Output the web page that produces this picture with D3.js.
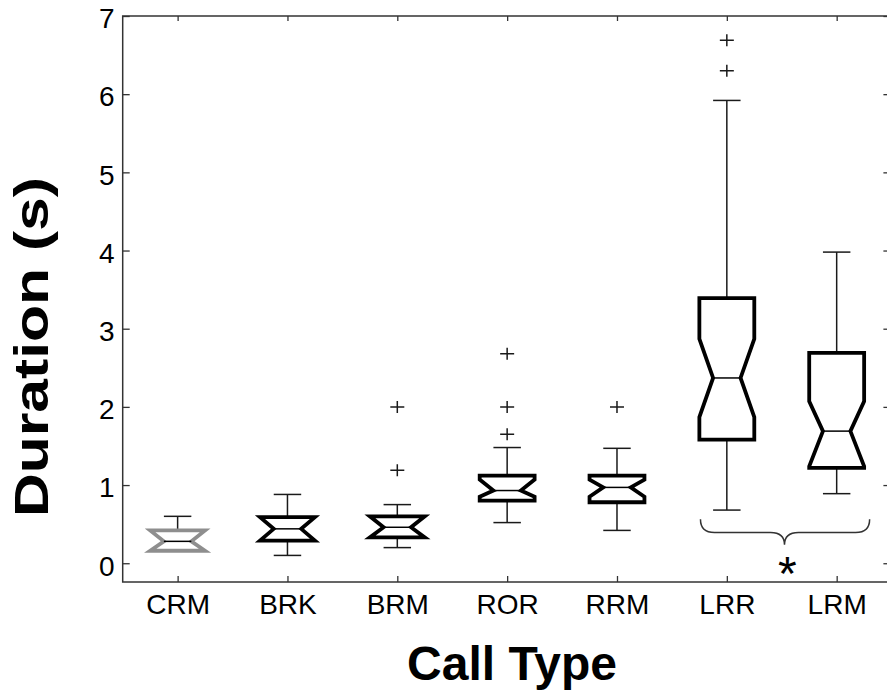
<!DOCTYPE html>
<html>
<head>
<meta charset="utf-8">
<script src="https://cdn.jsdelivr.net/npm/d3@7"></script>
<style>
  html, body { margin: 0; padding: 0; background: #fff; }
  svg { display: block; }
  text { font-family: "Liberation Sans", Arial, sans-serif; fill: #000; }
</style>
</head>
<body>
<svg id="chart" width="887" height="692"></svg>
<script>
// Call durations per call type (seconds): notched box summaries
const categories  = ["CRM", "BRK", "BRM", "ROR", "RRM", "LRR", "LRM"];
const whiskerLow  = [0.16, 0.10, 0.20, 0.52, 0.42, 0.68, 0.89];
const q1          = [0.16, 0.29, 0.33, 0.80, 0.78, 1.58, 1.22];
const medians     = [0.28, 0.44, 0.46, 0.93, 0.97, 2.37, 1.69];
const q3          = [0.42, 0.59, 0.60, 1.12, 1.12, 3.39, 2.69];
const whiskerHigh = [0.60, 0.88, 0.75, 1.48, 1.47, 5.92, 3.98];
const notchLow    = [0.16, 0.29, 0.33, 0.85, 0.85, 1.87, 1.24];
const notchHigh   = [0.42, 0.59, 0.60, 1.07, 1.07, 2.87, 2.07];
const outliers    = [[], [], [2.0, 1.19], [2.68, 2.0, 1.65], [2.0], [6.69, 6.30], []];
const boxColors   = ["#8e8e8e", "#000", "#000", "#000", "#000", "#000", "#000"];

const yTicks = [0, 1, 2, 3, 4, 5, 6, 7];

// significance bracket between LRR and LRM
const braceX = [5.76, 6.525, 7.30];   // left end, tip, right end
const braceY = [0.563, 0.393, 0.235]; // ends, bar, tip
const starPos = [6.55, 0.04];

const svg = d3.select("#chart");
const plotLeft = 122.7, plotRight = 889.4, plotTop = 16, plotBottom = 582;

const x = d3.scaleLinear().domain([0.5, 7.48]).range([plotLeft, plotRight]);
const y = d3.scaleLinear().domain([-0.24, 7]).range([plotBottom, plotTop]);

const axisColor = "#333";
const positions = categories.map((_, i) => i + 1);

function styleAxis(g) {
  g.select(".domain").remove();
  g.selectAll(".tick line").attr("stroke", axisColor).attr("stroke-width", 1.3);
  g.selectAll(".tick text").attr("font-size", 28).attr("fill", "#000")
    .attr("font-family", '"Liberation Sans", Arial, sans-serif');
}

// left axis with labels, ticks pointing inward
svg.append("g").attr("transform", `translate(${plotLeft},0)`)
  .call(d3.axisLeft(y).tickValues(yTicks).tickFormat(d3.format("d")).tickSize(-7).tickPadding(8))
  .call(styleAxis)
  .call(g => g.selectAll(".tick text").attr("dy", "0.42em"));

// right axis ticks only
svg.append("g").attr("transform", `translate(${plotRight},0)`)
  .call(d3.axisRight(y).tickValues(yTicks).tickFormat("").tickSize(-6))
  .call(styleAxis);

// bottom axis with category names
svg.append("g").attr("transform", `translate(0,${plotBottom})`)
  .call(d3.axisBottom(x).tickValues(positions).tickFormat(d => categories[d - 1]).tickSize(-6).tickPadding(12.5))
  .call(styleAxis);

// top axis ticks only
svg.append("g").attr("transform", `translate(0,${plotTop})`)
  .call(d3.axisTop(x).tickValues(positions).tickFormat("").tickSize(-5))
  .call(styleAxis);

// frame
svg.append("rect")
  .attr("x", plotLeft).attr("y", plotTop)
  .attr("width", plotRight - plotLeft).attr("height", plotBottom - plotTop)
  .attr("fill", "none").attr("stroke", axisColor).attr("stroke-width", 1.5);

const boxHalf = x(1.25) - x(1);   // box half-width
const innerHalf = boxHalf / 2;    // notch waist / whisker cap half-width

const data = categories.map((name, i) => ({
  name, pos: i + 1,
  wLo: whiskerLow[i], q1: q1[i], med: medians[i], q3: q3[i], wHi: whiskerHigh[i],
  nLo: notchLow[i], nHi: notchHigh[i], out: outliers[i], color: boxColors[i]
}));

const groups = svg.append("g").selectAll("g.box").data(data).join("g").attr("class", "box");

// whiskers
groups.each(function(d) {
  const g = d3.select(this);
  const cx = x(d.pos);
  const wl = g.append("g").attr("stroke", "#1a1a1a").attr("stroke-width", 1.5).attr("fill", "none");
  wl.append("line").attr("x1", cx).attr("x2", cx).attr("y1", y(d.q3)).attr("y2", y(d.wHi));
  wl.append("line").attr("x1", cx).attr("x2", cx).attr("y1", y(d.q1)).attr("y2", y(d.wLo));
  wl.append("line").attr("x1", cx - innerHalf).attr("x2", cx + innerHalf).attr("y1", y(d.wHi)).attr("y2", y(d.wHi));
  wl.append("line").attr("x1", cx - innerHalf).attr("x2", cx + innerHalf).attr("y1", y(d.wLo)).attr("y2", y(d.wLo));
});

// notched boxes
groups.append("path")
  .attr("d", d => {
    const cx = x(d.pos);
    const p = d3.path();
    p.moveTo(cx - boxHalf, y(d.q3));
    p.lineTo(cx + boxHalf, y(d.q3));
    p.lineTo(cx + boxHalf, y(d.nHi));
    p.lineTo(cx + innerHalf, y(d.med));
    p.lineTo(cx + boxHalf, y(d.nLo));
    p.lineTo(cx + boxHalf, y(d.q1));
    p.lineTo(cx - boxHalf, y(d.q1));
    p.lineTo(cx - boxHalf, y(d.nLo));
    p.lineTo(cx - innerHalf, y(d.med));
    p.lineTo(cx - boxHalf, y(d.nHi));
    p.closePath();
    return p.toString();
  })
  .attr("fill", "#fff")
  .attr("stroke", d => d.color)
  .attr("stroke-width", 3.8)
  .attr("stroke-linejoin", "miter");

// medians
groups.append("line")
  .attr("x1", d => x(d.pos) - innerHalf).attr("x2", d => x(d.pos) + innerHalf)
  .attr("y1", d => y(d.med)).attr("y2", d => y(d.med))
  .attr("stroke", "#000").attr("stroke-width", 1.5);

// outliers as "+" markers
groups.each(function(d) {
  d3.select(this).selectAll("path.out").data(d.out).join("path")
    .attr("class", "out")
    .attr("transform", v => `translate(${x(d.pos)},${y(v)})`)
    .attr("d", "M-7,0H7M0,-6V6")
    .attr("stroke", "#1a1a1a").attr("stroke-width", 1.5).attr("fill", "none");
});

// curly brace under LRR and LRM
{
  const xl = x(braceX[0]), xc = x(braceX[1]), xr = x(braceX[2]);
  const yt = y(braceY[0]), ym = y(braceY[1]), yp = y(braceY[2]);
  const r = 14;
  const p = d3.path();
  p.moveTo(xl, yt);
  p.quadraticCurveTo(xl, ym, xl + r, ym);
  p.lineTo(xc - r, ym);
  p.quadraticCurveTo(xc, ym, xc, yp);
  p.quadraticCurveTo(xc, ym, xc + r, ym);
  p.lineTo(xr - r, ym);
  p.quadraticCurveTo(xr, ym, xr, yt);
  svg.append("path").attr("d", p.toString())
    .attr("fill", "none").attr("stroke", "#333").attr("stroke-width", 1.5);
}

svg.append("text")
  .attr("x", x(starPos[0])).attr("y", y(starPos[1]))
  .attr("text-anchor", "middle").attr("dy", "0.62em")
  .attr("font-size", 48).attr("fill", "#111")
  .text("*");

// axis titles
svg.append("text")
  .attr("x", 512).attr("y", 680)
  .attr("text-anchor", "middle")
  .attr("font-size", 48).attr("font-weight", "bold")
  .text("Call Type");

svg.append("text")
  .attr("transform", "translate(48,347) rotate(-90)")
  .attr("text-anchor", "middle")
  .attr("font-size", 48).attr("font-weight", "bold")
  .attr("textLength", 340).attr("lengthAdjust", "spacingAndGlyphs")
  .text("Duration (s)");
</script>
</body>
</html>
